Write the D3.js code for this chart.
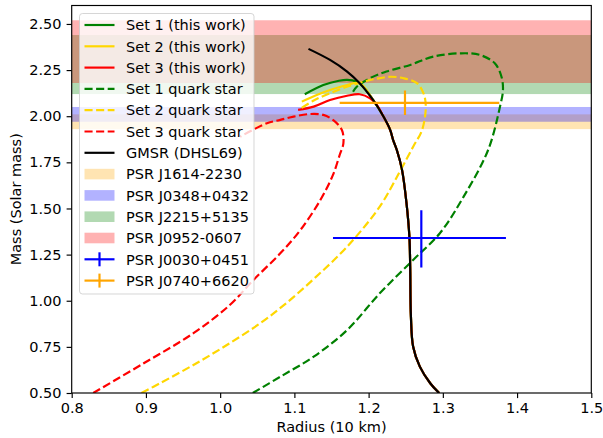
<!DOCTYPE html>
<html><head><meta charset="utf-8">
<script src="https://cdn.jsdelivr.net/npm/d3@7"></script>
<style>body{margin:0;background:#fff} text{font-family:"DejaVu Sans",sans-serif;}</style>
</head><body><svg id="c" width="603" height="438"></svg>
<script>
// ---------- data ----------
const xTicks=[0.8,0.9,1.0,1.1,1.2,1.3,1.4,1.5];
const yTicks=[0.5,0.75,1.0,1.25,1.5,1.75,2.0,2.25,2.5];

const gmsrR=[1.119,1.148,1.171,1.188,1.206,1.220,1.229,1.233,1.238,1.245,1.251,1.255,1.256,1.257,1.260,1.269,1.283,1.295];
const gmsrM=[2.365,2.305,2.242,2.179,2.088,1.998,1.926,1.871,1.817,1.709,1.530,1.342,1.185,0.914,0.751,0.643,0.553,0.500];

// hybrid branches (then follow the hadronic GMSR branch)
const set1BranchR=[1.114,1.139,1.160,1.171,1.184,1.193];
const set1BranchM=[2.119,2.169,2.192,2.197,2.187,2.160];
const set2BranchR=[1.110,1.130,1.150,1.170,1.188];
const set2BranchM=[2.079,2.115,2.145,2.168,2.179];
const set3BranchR=[1.105,1.126,1.148,1.171,1.188,1.202,1.211];
const set3BranchM=[2.034,2.052,2.088,2.111,2.119,2.097,2.061];

const set1QuarkR=[1.044,1.081,1.126,1.171,1.215,1.260,1.296,1.328,1.361,1.377,1.381,1.379,1.370,1.350,1.325,1.287,1.256,1.224,1.202,1.184,1.179];
const set1QuarkM=[0.500,0.588,0.697,0.841,1.040,1.221,1.366,1.564,1.817,2.052,2.142,2.214,2.287,2.332,2.341,2.323,2.278,2.242,2.206,2.160,2.133];
const set2QuarkR=[0.894,0.919,0.964,1.009,1.054,1.090,1.128,1.171,1.215,1.242,1.260,1.272,1.277,1.274,1.265,1.247,1.229,1.215,1.202,1.175,1.148,1.126,1.108];
const set2QuarkM=[0.500,0.553,0.652,0.760,0.878,0.990,1.125,1.293,1.510,1.700,1.835,1.925,2.052,2.124,2.179,2.206,2.214,2.206,2.196,2.165,2.125,2.085,2.040];
const set3QuarkR=[0.829,0.897,0.964,1.013,1.045,1.081,1.108,1.135,1.152,1.161,1.166,1.164,1.152,1.139,1.121,1.099,1.081,1.063,1.027];
const set3QuarkM=[0.500,0.661,0.824,0.977,1.113,1.257,1.383,1.546,1.682,1.790,1.853,1.925,1.980,2.007,2.012,1.998,1.980,1.962,1.889];

const bandNames=["PSR J1614-2230","PSR J0348+0432","PSR J2215+5135","PSR J0952-0607"];
const bandLow=[1.93,1.97,2.12,2.18];
const bandHigh=[2.01,2.05,2.44,2.52];
const bandColors=["orange","blue","green","red"];

const ebNames=["PSR J0030+0451","PSR J0740+6620"];
const ebR=[1.271,1.249], ebRlo=[0.119,0.088], ebRhi=[0.114,0.127];
const ebM=[1.34,2.072], ebMlo=[0.16,0.066], ebMhi=[0.15,0.067];
const ebColors=["blue","orange"];

const curveLabels=["Set 1 (this work)","Set 2 (this work)","Set 3 (this work)","Set 1 quark star","Set 2 quark star","Set 3 quark star","GMSR (DHSL69)"];
const curveColors=["green","gold","red","green","gold","red","black"];

// ---------- drawing ----------
const svg=d3.select("#c");
const L=71.7,R=591.3,T=5.5,B=393;
const x=d3.scaleLinear().domain([0.8,1.5]).range([L,R]);
const y=d3.scaleLinear().domain([0.5,2.6]).range([B,T]);
const FS=14.5, LW=2.18;

svg.append("defs").append("clipPath").attr("id","clip").append("rect")
  .attr("x",L).attr("y",T).attr("width",R-L).attr("height",B-T);
const plot=svg.append("g").attr("clip-path","url(#clip)");

// bands
bandNames.forEach((n,i)=>{
  plot.append("rect").attr("x",L).attr("width",R-L)
    .attr("y",y(bandHigh[i])).attr("height",y(bandLow[i])-y(bandHigh[i]))
    .attr("fill",bandColors[i]).attr("fill-opacity",0.3);
});

const zip=(a,b)=>a.map((v,i)=>[v,b[i]]);
function hybrid(brR,brM){
  const last=brM[brM.length-1];
  const pts=zip(brR,brM);
  gmsrM.forEach((m,i)=>{ if(m<last) pts.push([gmsrR[i],m]); });
  return pts;
}
const series=[
  hybrid(set1BranchR,set1BranchM),
  hybrid(set2BranchR,set2BranchM),
  hybrid(set3BranchR,set3BranchM),
  zip(set1QuarkR,set1QuarkM),
  zip(set2QuarkR,set2QuarkM),
  zip(set3QuarkR,set3QuarkM),
  zip(gmsrR,gmsrM)
];
const line=d3.line().x(d=>x(d[0])).y(d=>y(d[1])).curve(d3.curveCatmullRom.alpha(0.5));
series.forEach((pts,i)=>{
  plot.append("path").attr("d",line(pts)).attr("fill","none")
    .attr("stroke",curveColors[i]).attr("stroke-width",LW)
    .attr("stroke-dasharray",(i>=3&&i<=5)?"8.1,3.5":null);
});

// error bars
ebNames.forEach((n,i)=>{
  const g=plot.append("g").attr("stroke",ebColors[i]).attr("stroke-width",LW);
  g.append("line").attr("x1",x(ebR[i]-ebRlo[i])).attr("x2",x(ebR[i]+ebRhi[i]))
    .attr("y1",y(ebM[i])).attr("y2",y(ebM[i]));
  g.append("line").attr("x1",x(ebR[i])).attr("x2",x(ebR[i]))
    .attr("y1",y(ebM[i]-ebMlo[i])).attr("y2",y(ebM[i]+ebMhi[i]));
});

// axes
const xa=svg.append("g").attr("transform",`translate(0,${B})`)
  .call(d3.axisBottom(x).tickValues(xTicks).tickFormat(d3.format(".1f")).tickSize(5.1).tickPadding(5.1).tickSizeOuter(0));
const ya=svg.append("g").attr("transform",`translate(${L},0)`)
  .call(d3.axisLeft(y).tickValues(yTicks).tickFormat(d3.format(".2f")).tickSize(5.1).tickPadding(5.1).tickSizeOuter(0));
[xa,ya].forEach(a=>{
  a.selectAll("text").attr("font-size",FS).attr("font-family","DejaVu Sans").attr("fill","#000");
  a.selectAll("line").attr("stroke","#000").attr("stroke-width",1.16);
  a.select(".domain").remove();
});
svg.append("rect").attr("x",L).attr("y",T).attr("width",R-L).attr("height",B-T)
  .attr("fill","none").attr("stroke","#000").attr("stroke-width",1.16);

svg.append("text").attr("x",(L+R)/2).attr("y",432).attr("text-anchor","middle")
  .attr("font-size",FS).text("Radius (10 km)");
svg.append("text").attr("transform",`translate(21,${(T+B)/2}) rotate(-90)`).attr("text-anchor","middle")
  .attr("font-size",FS).text("Mass (Solar mass)");

// legend
const lg=svg.append("g");
lg.append("rect").attr("x",79.5).attr("y",13.5).attr("width",174.5).attr("height",280.5)
  .attr("rx",3).attr("fill","#fff").attr("fill-opacity",0.8)
  .attr("stroke","#ccc").attr("stroke-opacity",0.8).attr("stroke-width",1);
const hx0=84.5,hx1=114.5,tx=126,row0=25,dr=21.3;
const entries=[];
curveLabels.forEach((l,i)=>entries.push({t:"line",label:l,c:curveColors[i],dash:(i>=3&&i<=5)}));
bandNames.forEach((l,i)=>entries.push({t:"patch",label:l,c:bandColors[i]}));
ebNames.forEach((l,i)=>entries.push({t:"eb",label:l,c:ebColors[i]}));
entries.forEach((e,i)=>{
  const cy=row0+i*dr;
  if(e.t==="line"){
    lg.append("line").attr("x1",hx0).attr("x2",hx1).attr("y1",cy).attr("y2",cy)
      .attr("stroke",e.c).attr("stroke-width",LW).attr("stroke-dasharray",e.dash?"8.1,3.5":null);
  }else if(e.t==="patch"){
    lg.append("rect").attr("x",hx0).attr("width",hx1-hx0).attr("y",cy-5.3).attr("height",10.6)
      .attr("fill",e.c).attr("fill-opacity",0.3);
  }else{
    lg.append("line").attr("x1",hx0).attr("x2",hx1).attr("y1",cy).attr("y2",cy)
      .attr("stroke",e.c).attr("stroke-width",LW);
    lg.append("line").attr("x1",(hx0+hx1)/2).attr("x2",(hx0+hx1)/2).attr("y1",cy-7).attr("y2",cy+7)
      .attr("stroke",e.c).attr("stroke-width",LW);
  }
  lg.append("text").attr("x",tx).attr("y",cy).attr("dy","0.36em").attr("font-size",FS).text(e.label);
});
</script></body></html>
